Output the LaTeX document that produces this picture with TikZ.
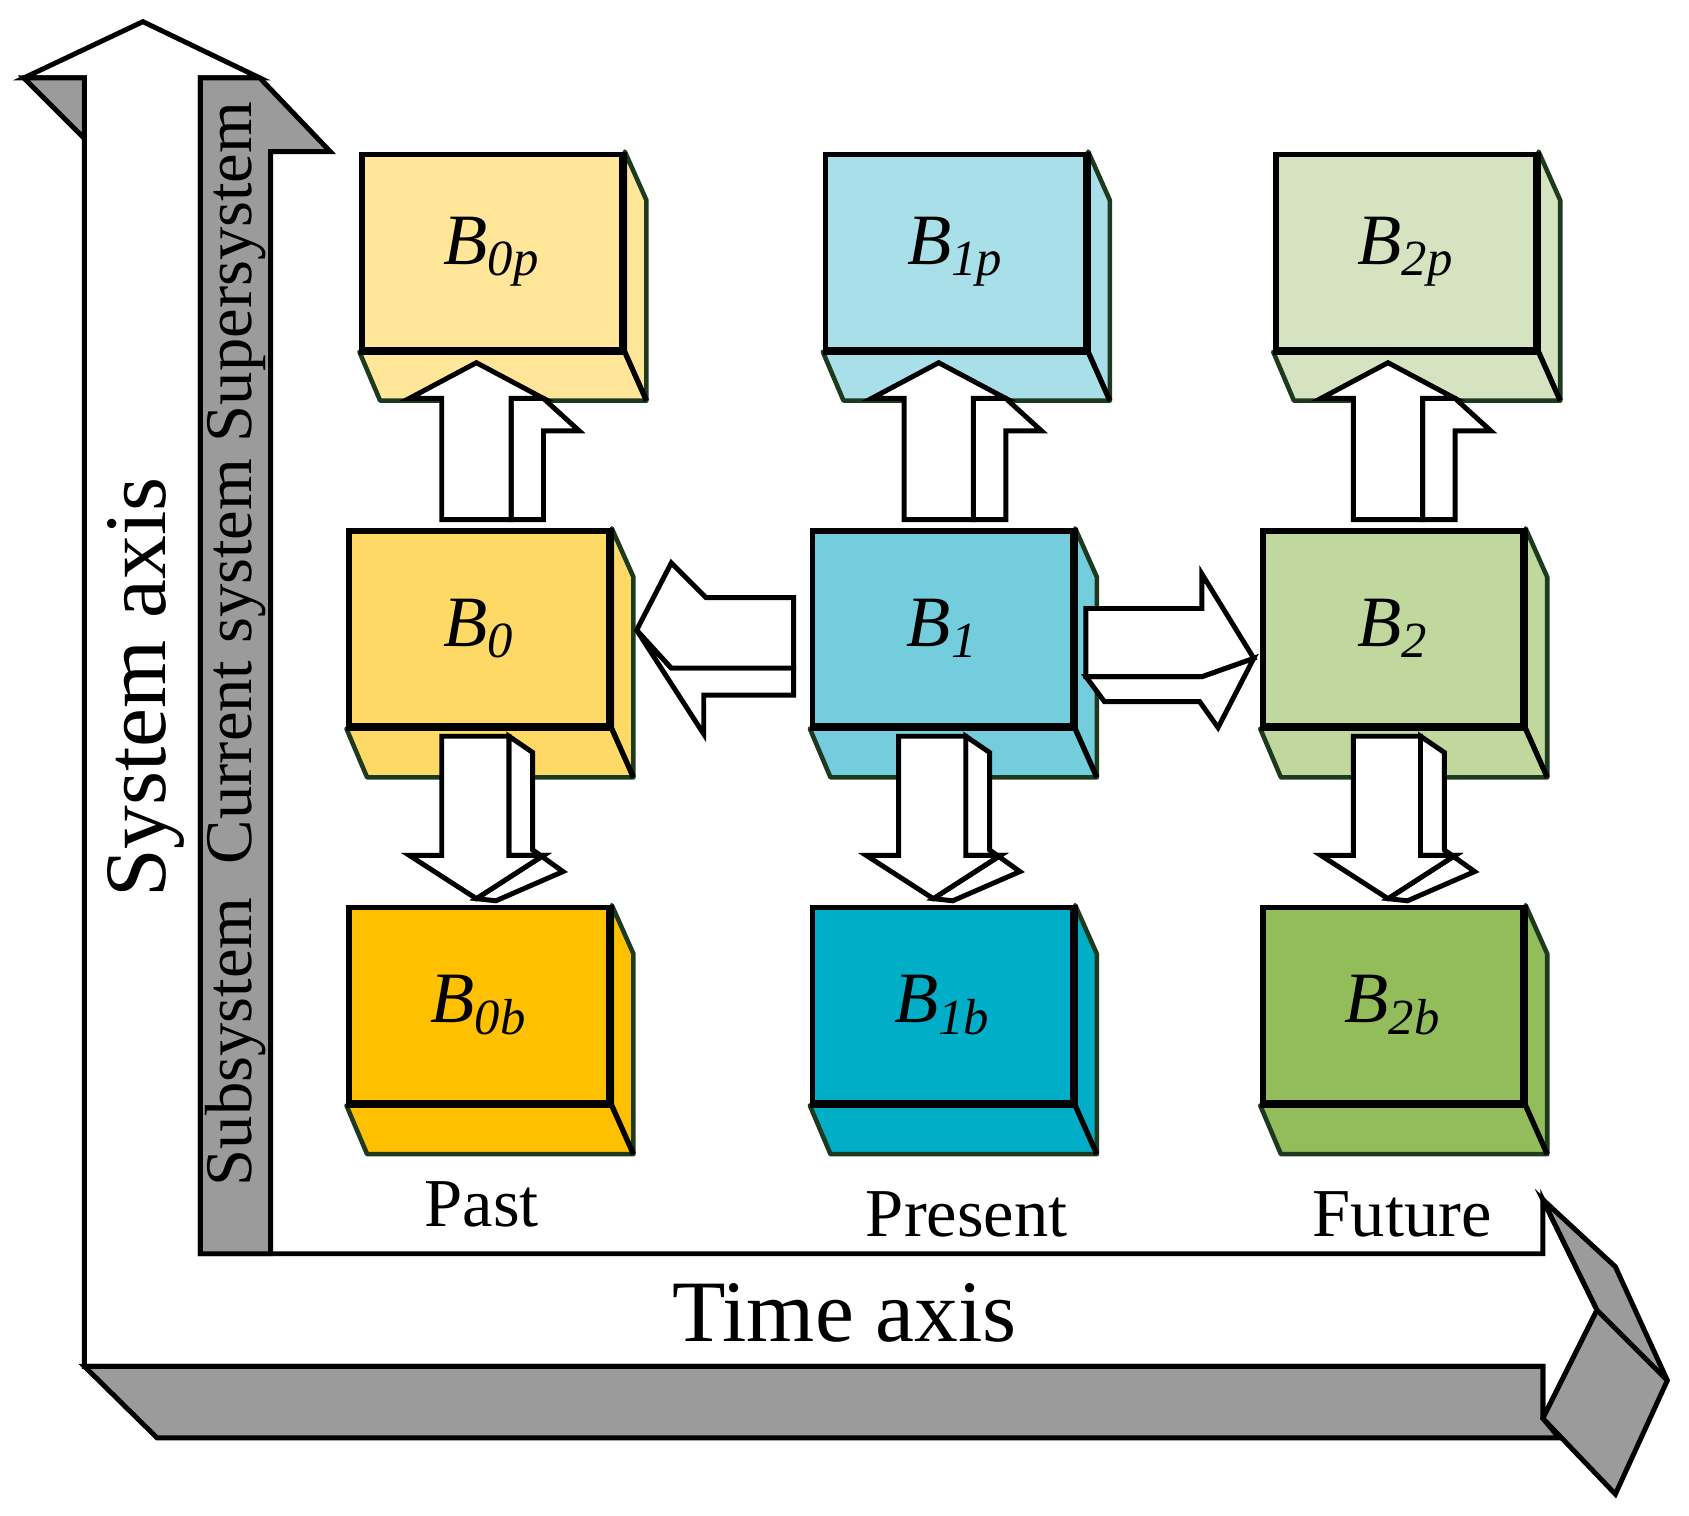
\documentclass[tikz,border=0pt]{standalone}
\usepackage{fontspec}
\setmainfont{Liberation Serif}
\usetikzlibrary{calc}

\definecolor{edgegreen}{HTML}{1E3A1E}
\definecolor{axisgray}{HTML}{9B9B9B}
\definecolor{pastP}{HTML}{FFE699}
\definecolor{pastC}{HTML}{FFD966}
\definecolor{pastB}{HTML}{FFC000}
\definecolor{presP}{HTML}{A9DFE8}
\definecolor{presC}{HTML}{74CDDD}
\definecolor{presB}{HTML}{00AEC8}
\definecolor{futP}{HTML}{D5E3C0}
\definecolor{futC}{HTML}{C0D89D}
\definecolor{futB}{HTML}{93BC5B}

\tikzset{
  box/.style={draw, line width=1.4pt, minimum width=2.40cm, minimum height=1.80cm,
    inner sep=0pt, font=\fontsize{19}{19}\selectfont\itshape},
  depth/.style={draw=edgegreen, line width=1.2pt, line join=round},
  blockarrow/.style={draw, fill=white, line width=1.3pt, line join=miter},
  axisface/.style={draw, fill=axisgray, line width=1.3pt},
  label/.style={font=\fontsize{18}{18}\selectfont}
}

% box with name, front top-left corner, colour and label
\newcommand\cube[5]{%
  \node[box, fill=#4, anchor=north west] (#1) at (#2,#3) {#5};
  \fill[#4, depth] (#1.north east) -- ++(20,45) -- ++(0,185) -- ++(-246,0) -- (#1.south west) -- (#1.south east) -- cycle;
  \draw[line width=1.4pt] (#1.north east) -- (#1.south east) -- (#1.south west);
  \draw[line width=1.4pt] (#1.south east) -- ++(20,45);
}
% upward block arrow at column centre
\newcommand\uparr[1]{%
  \draw[blockarrow] ($(#1,368)+(32,0)$) -- ++(30,0) -- ++(33,30) -- ++(-33,0) -- ++(0,82) -- ++(-30,0) -- cycle;
  \draw[blockarrow] ($(#1,480)+(-32,0)$) -- ++(0,-112) -- ++(-30,0) -- (#1,335) -- ++(62,33) -- ++(-30,0) -- ++(0,112) -- cycle;
}
% downward block arrow at column centre
\newcommand\downarr[1]{%
  \draw[blockarrow] ($(#1,680)+(30,0)$) -- ++(22,15) -- ++(0,90) -- ++(28,20) -- ++(-62,27) -- ++(-18,-2) -- ++(62,-40) -- ++(-32,0) -- cycle;
  \draw[blockarrow] ($(#1,680)+(-32,0)$) -- ++(62,0) -- ++(0,110) -- ++(32,0) -- (#1,830) -- ++(-62,-40) -- ++(30,0) -- cycle;
}

\begin{document}
\begin{tikzpicture}[x=0.01cm, y=-0.01cm]
\useasboundingbox (0,0) rectangle (1560,1400);

% axes
\draw[blockarrow] (78,1262) -- (78,72) -- (22,72) -- (132,20) -- (240,72) -- (185,72)
  -- (185,1158) -- (1425,1158) -- (1425,1108) -- (1475,1210) -- (1425,1310) -- (1425,1262) -- cycle;
\draw[axisface] (22,72) -- (78,128) -- (78,72) -- cycle;
\draw[axisface] (185,72) -- (240,72) -- (305,140) -- (250,140) -- (250,1158) -- (185,1158) -- cycle;
\draw[axisface] (78,1262) -- (1425,1262) -- (1425,1310) -- (1440,1328) -- (145,1328) -- cycle;
\draw[axisface] (1425,1108) -- (1492,1170) -- (1540,1275) -- (1492,1380) -- (1425,1310) -- (1475,1210) -- cycle;
\draw[line width=1.3pt] (1475,1210) -- (1540,1275);

\node[rotate=90, font=\fontsize{23}{23}\selectfont] (sysaxis) at (135,635) {System axis};
\node[rotate=90, anchor=west, font=\fontsize{17.5}{17.5}\selectfont] (levels) at (218,1108)
  {Subsystem\ \ Current system Supersystem};
\node[font=\fontsize{23}{23}\selectfont] (timeaxis) at (780,1213) {Time axis};

% boxes
\cube{b0p}{332}{140}{pastP}{B\textsubscript{0p}}
\cube{b1p}{760}{140}{presP}{B\textsubscript{1p}}
\cube{b2p}{1176}{140}{futP}{B\textsubscript{2p}}
\cube{b0}{320}{488}{pastC}{B\textsubscript{0}}
\cube{b1}{748}{488}{presC}{B\textsubscript{1}}
\cube{b2}{1164}{488}{futC}{B\textsubscript{2}}
\cube{b0b}{320}{836}{pastB}{B\textsubscript{0b}}
\cube{b1b}{748}{836}{presB}{B\textsubscript{1b}}
\cube{b2b}{1164}{836}{futB}{B\textsubscript{2b}}

% arrows between boxes
\uparr{440}
\uparr{867}
\uparr{1282}
\downarr{440}
\downarr{862}
\downarr{1282}
\draw[blockarrow] (588,582) -- (650,678) -- (650,642) -- (733,642) -- (733,617) -- (620,617) -- cycle;
\draw[blockarrow] (733,552) -- (652,552) -- (620,520) -- (588,582) -- (620,617) -- (733,617) -- cycle;
\draw[blockarrow] (1003,625) -- (1020,648) -- (1108,648) -- (1125,672) -- (1158,608) -- (1110,625) -- cycle;
\draw[blockarrow] (1003,562) -- (1110,562) -- (1110,530) -- (1158,608) -- (1110,625) -- (1003,625) -- cycle;

% time labels
\node[label] (past) at (445,1112) {Past};
\node[label] (present) at (893,1122) {Present};
\node[label] (future) at (1295,1122) {Future};
\end{tikzpicture}
\end{document}
